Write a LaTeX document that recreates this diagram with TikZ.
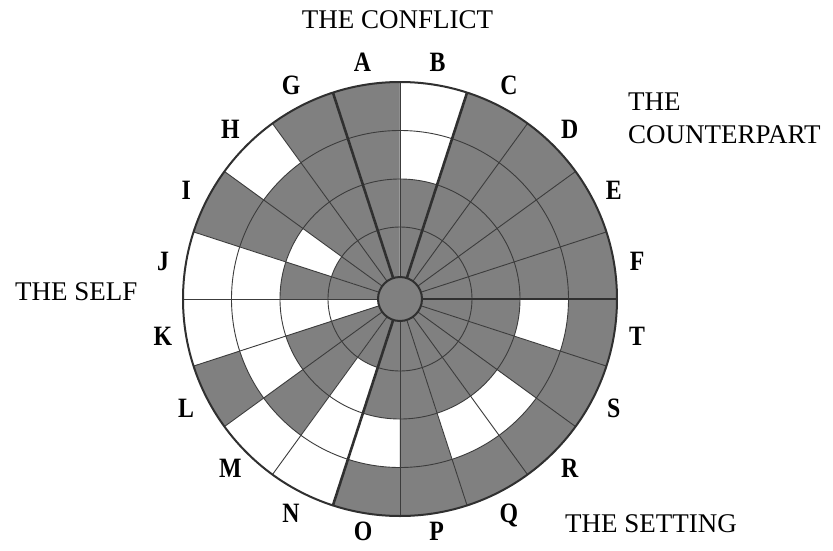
\documentclass[tikz,border=0pt]{standalone}
\usepackage{fontspec}
\setmainfont{Liberation Serif}
\newfontfamily\letterfont[FakeStretch=0.85]{Liberation Serif}
\definecolor{cellg}{RGB}{128,128,128}
\definecolor{cellw}{RGB}{255,255,255}
\definecolor{linegray}{RGB}{60,60,60}

\begin{document}
\begin{tikzpicture}[
    gridline/.style={draw=linegray, line width=0.9pt},
    divider/.style={draw=linegray!80!black, line width=2.6pt},
    rim/.style={draw=linegray!80!black, line width=2pt},
    hub/.style={draw=linegray!80!black, fill=cellg, line width=2pt},
    letter/.style={font=\letterfont\bfseries\fontsize{28}{28}\selectfont, inner sep=0pt, text depth=0pt},
    heading/.style={font=\fontsize{27}{33}\selectfont, inner sep=0pt, align=left}]
	\useasboundingbox (-400pt,-251pt) rectangle (433pt,299pt);
	% cells, ring 1 (inside) to ring 4 (rim), sectors counterclockwise from A
	\foreach \lab/\ra/\rb/\rc/\rd [count=\i from 0] in {A/g/g/g/g, G/g/g/g/g, H/g/g/g/w, I/g/w/g/g, J/g/g/w/w,
	    K/w/w/w/w, L/g/g/w/g, M/g/g/g/w, N/g/w/w/w, O/g/g/w/g, P/g/g/g/g, Q/g/g/w/g, R/g/g/w/g,
	    S/g/g/g/g, T/g/g/w/g, F/g/g/g/g, E/g/g/g/g, D/g/g/g/g, C/g/g/g/g, B/g/g/w/w} {
		\pgfmathsetmacro\s{90+18*\i}
		\pgfmathsetmacro\e{\s+18}
		\pgfmathsetmacro\rl{ifthenelse(or(\i==9,\i==10),235,240)}
		\fill[cell\rd] (0,0) -- (\s:217pt) arc[start angle=\s, end angle=\e, radius=217pt] -- cycle;
		\fill[cell\rc] (0,0) -- (\s:168.5pt) arc[start angle=\s, end angle=\e, radius=168.5pt] -- cycle;
		\fill[cell\rb] (0,0) -- (\s:120pt) arc[start angle=\s, end angle=\e, radius=120pt] -- cycle;
		\fill[cell\ra] (0,0) -- (\s:72pt) arc[start angle=\s, end angle=\e, radius=72pt] -- cycle;
		\node[letter] (l\lab) at (\s+9:\rl pt) {\lab};
	}
	\foreach \r in {72,120,168.5} \draw[gridline] (0,0) circle[radius=\r pt];
	\foreach \a in {0,18,...,342} \draw[gridline] (\a:22pt) -- (\a:217pt);
	% group borders
	\foreach \a in {0,72,108,252} \draw[divider] (0,0) -- (\a:217pt);
	\draw[rim] (0,0) circle[radius=217pt];
	\draw[hub] (0,0) circle[radius=22pt];
	\node[heading, anchor=base] (conflict) at (-2.5pt,270.7pt) {THE CONFLICT};
	\node[heading, anchor=north west] (counterpart) at (228pt,206pt) {THE\\COUNTERPART};
	\node[heading, anchor=base west] (self) at (-385pt,-1pt) {THE SELF};
	\node[heading, anchor=base west] (setting) at (165pt,-233pt) {THE SETTING};
\end{tikzpicture}
\end{document}
